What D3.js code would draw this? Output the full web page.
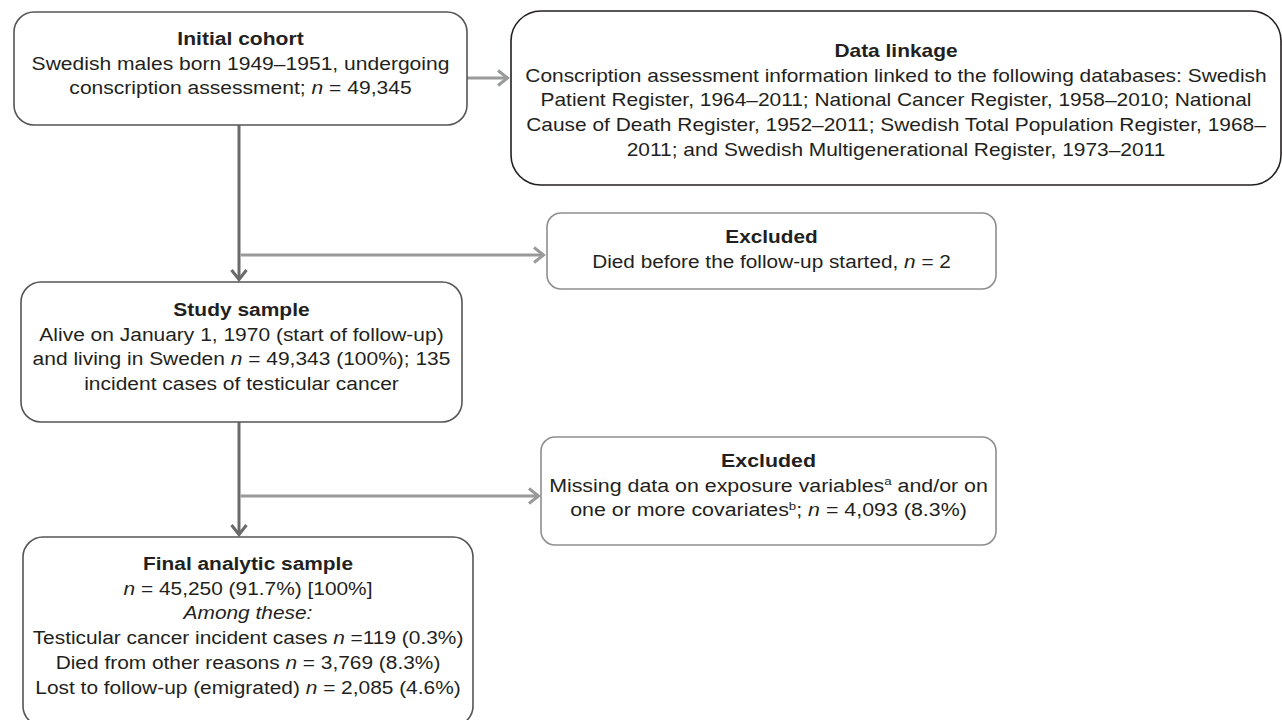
<!DOCTYPE html>
<html>
<head>
<meta charset="utf-8">
<script src="https://cdn.jsdelivr.net/npm/d3@7"></script>
<style>
  html, body { margin: 0; padding: 0; background: #fff; }
  svg { display: block; font-family: "Liberation Sans", Arial, Helvetica, sans-serif; }
</style>
</head>
<body>
<svg width="1282" height="720"></svg>
<script>
// box texts: _x_ = italic, ^x = superscript
const initialTitle = "Initial cohort";
const initialLines = ["Swedish males born 1949–1951, undergoing", "conscription assessment; _n_ = 49,345"];
const linkageTitle = "Data linkage";
const linkageLines = [
  "Conscription assessment information linked to the following databases: Swedish",
  "Patient Register, 1964–2011; National Cancer Register, 1958–2010; National",
  "Cause of Death Register, 1952–2011; Swedish Total Population Register, 1968–",
  "2011; and Swedish Multigenerational Register, 1973–2011"
];
const excluded1Title = "Excluded";
const excluded1Lines = ["Died before the follow-up started, _n_ = 2"];
const studyTitle = "Study sample";
const studyLines = [
  "Alive on January 1, 1970 (start of follow-up)",
  "and living in Sweden _n_ = 49,343 (100%); 135",
  "incident cases of testicular cancer"
];
const excluded2Title = "Excluded";
const excluded2Lines = [
  "Missing data on exposure variables^a and/or on",
  "one or more covariates^b; _n_ = 4,093 (8.3%)"
];
const finalTitle = "Final analytic sample";
const finalLines = [
  "_n_ = 45,250 (91.7%) [100%]",
  "_Among these:_",
  "Testicular cancer incident cases _n_ =119 (0.3%)",
  "Died from other reasons _n_ = 3,769 (8.3%)",
  "Lost to follow-up (emigrated) _n_ = 2,085 (4.6%)"
];

const fs = 19, lh = 24.8;
const dark = "#231f20";

const boxes = [
  { title: initialTitle, lines: initialLines, x0: 14, y0: 12, x1: 467, y1: 125, r: 20, stroke: "#555", ty: 38, fit: 418 },
  { title: linkageTitle, lines: linkageLines, x0: 511, y0: 11, x1: 1281, y1: 185, r: 30, stroke: dark, ty: 50, fit: 742 },
  { title: excluded1Title, lines: excluded1Lines, x0: 547, y0: 213, x1: 996, y1: 289, r: 14, stroke: "#8e8e8e", ty: 236, fit: 359 },
  { title: studyTitle, lines: studyLines, x0: 21, y0: 282, x1: 462, y1: 422, r: 20, stroke: "#555", ty: 309, fit: 418 },
  { title: excluded2Title, lines: excluded2Lines, x0: 541, y0: 437, x1: 996, y1: 545, r: 14, stroke: "#8e8e8e", ty: 460, fit: 439 },
  { title: finalTitle, lines: finalLines, x0: 23, y0: 537, x1: 473, y1: 726, r: 20, stroke: "#555", ty: 563, fit: 431 }
];

// connectors
const mainX = 239;
const verticals = [
  { y0: 125, y1: 281 },
  { y0: 422, y1: 536 }
];
const branches = [
  { y: 255, x1: 545 },
  { y: 496, x1: 540 },
  { y: 78, x0: 467, x1: 509 }
];

const svg = d3.select("svg");

// vertical main flow
svg.selectAll("line.v")
  .data(verticals)
  .join("line")
  .attr("class", "v")
  .attr("x1", mainX).attr("x2", mainX)
  .attr("y1", d => d.y0).attr("y2", d => d.y1 - 1)
  .attr("stroke", "#6a6a6a").attr("stroke-width", 3);

svg.selectAll("path.vh")
  .data(verticals)
  .join("path")
  .attr("class", "vh")
  .attr("d", d => `M${mainX - 7.5},${d.y1 - 11} L${mainX},${d.y1 - 1.5} L${mainX + 7.5},${d.y1 - 11}`)
  .attr("fill", "none").attr("stroke", "#6a6a6a").attr("stroke-width", 3);

// horizontal arrows
svg.selectAll("line.h")
  .data(branches)
  .join("line")
  .attr("class", "h")
  .attr("x1", d => d.x0 !== undefined ? d.x0 : mainX + 1.5)
  .attr("x2", d => d.x1 - 1)
  .attr("y1", d => d.y).attr("y2", d => d.y)
  .attr("stroke", "#9a9a9a").attr("stroke-width", 3);

svg.selectAll("path.hh")
  .data(branches)
  .join("path")
  .attr("class", "hh")
  .attr("d", d => `M${d.x1 - 11},${d.y - 7.5} L${d.x1 - 1.5},${d.y} L${d.x1 - 11},${d.y + 7.5}`)
  .attr("fill", "none").attr("stroke", "#9a9a9a").attr("stroke-width", 3);

// boxes
svg.selectAll("rect.box")
  .data(boxes)
  .join("rect")
  .attr("class", "box")
  .attr("x", d => d.x0).attr("y", d => d.y0)
  .attr("width", d => d.x1 - d.x0).attr("height", d => d.y1 - d.y0)
  .attr("rx", d => d.r).attr("ry", d => d.r)
  .attr("fill", "#fff")
  .attr("stroke", d => d.stroke).attr("stroke-width", 1.6);

function addRich(text, str) {
  const parts = str.split(/(_[^_]+_|\^[a-z])/).filter(s => s.length);
  parts.forEach(p => {
    if (p[0] === "_") {
      text.append("tspan").attr("font-style", "italic").text(p.slice(1, -1));
    } else if (p[0] === "^") {
      text.append("tspan")
        .attr("font-size", fs * 0.62)
        .attr("baseline-shift", "super")
        .text(p.slice(1));
    } else {
      text.append("tspan").text(p);
    }
  });
}

boxes.forEach(b => {
  const cx = (b.x0 + b.x1) / 2;
  const g = svg.append("g");
  const all = [b.title].concat(b.lines);
  const texts = all.map((s, i) => {
    const t = g.append("text")
      .attr("x", 0)
      .attr("y", b.ty + i * lh + fs * 0.36)
      .attr("text-anchor", "middle")
      .attr("font-size", fs)
      .attr("fill", dark)
      .attr("font-weight", i === 0 ? "bold" : "normal");
    addRich(t, s);
    return t;
  });
  const w = d3.max(texts.slice(1), t => t.node().getComputedTextLength());
  const sx = b.fit / w;
  g.attr("transform", `translate(${cx},0) scale(${sx},1)`);
});
</script>
</body>
</html>
